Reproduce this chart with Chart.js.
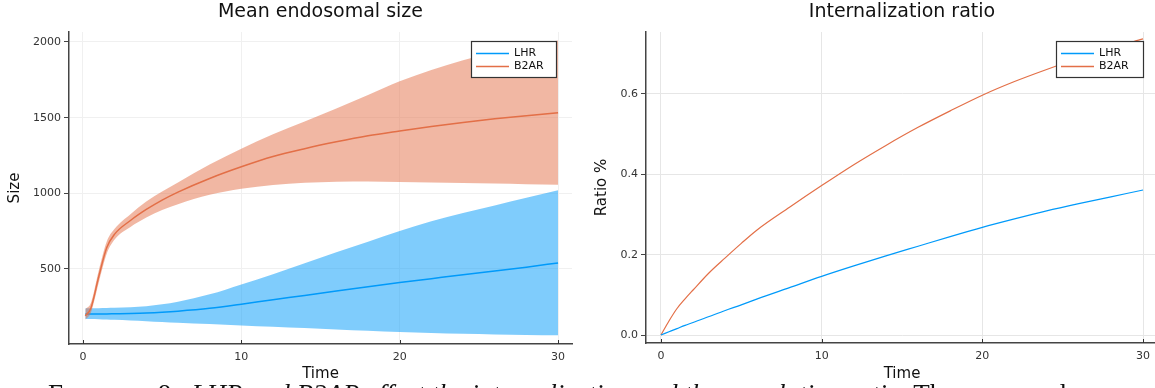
<!DOCTYPE html>
<html>
<head>
<meta charset="utf-8">
<script src="https://cdn.jsdelivr.net/npm/chart.js@4.4.1/dist/chart.umd.min.js"></script>
<style>
  html, body { margin: 0; padding: 0; background: #fff; }
  body { width: 1155px; height: 388px; overflow: hidden; position: relative; }
  canvas { position: absolute; top: 0; }
  #leftChart { left: 0; }
  #rightChart { left: 578px; }
  .caption {
    position: absolute; left: 48px; top: 381px; white-space: nowrap;
    font-family: "Liberation Serif", serif; font-size: 27px; line-height: 27px; color: #111;
  }
  .caption .sc { font-variant: small-caps; letter-spacing: 5px; }
</style>
</head>
<body>
<canvas id="leftChart" width="580" height="388"></canvas>
<canvas id="rightChart" width="600" height="388"></canvas>
<div class="caption"><span class="sc">Figure</span> 8. &nbsp;<i>LHR and B2AR effect the internalization and the population ratio.</i> The mean and</div>
<script>
// ---- data: mean endosomal size ----
const sizeTime = [0.15, 0.5, 1, 1.5, 2, 3, 4, 5, 6, 8, 10, 12, 14, 16, 18, 20, 22, 24, 26, 28, 30];
const lhrMean = [203, 203, 203, 203, 204, 206, 209, 214, 221, 240, 267, 297, 325, 355, 383, 410, 436, 462, 487, 512, 540];
const lhrHigh = [240, 240, 241, 242, 243, 247, 254, 266, 284, 332, 398, 465, 538, 610, 680, 750, 815, 870, 920, 970, 1020];
const lhrLow = [170, 169, 168, 166, 164, 160, 155, 150, 145, 136, 127, 118, 109, 100, 91, 83, 77, 71, 67, 64, 62];
const b2arMean = [190, 240, 450, 640, 730, 820, 893, 955, 1008, 1098, 1175, 1243, 1295, 1340, 1380, 1412, 1442, 1468, 1492, 1513, 1533];
const b2arHigh = [235, 275, 490, 680, 765, 862, 945, 1012, 1072, 1190, 1295, 1390, 1475, 1560, 1650, 1740, 1815, 1880, 1930, 1975, 2010];
const b2arLow = [165, 210, 410, 600, 695, 778, 840, 890, 928, 990, 1030, 1055, 1070, 1077, 1078, 1075, 1072, 1068, 1064, 1060, 1057];

// ---- data: internalization ratio ----
const ratioTime = [0, 0.5, 1, 1.5, 2, 3, 4, 5, 6, 8, 10, 12, 14, 16, 18, 20, 22, 24, 26, 28, 30];
const lhrRatio = [0, 0.008, 0.016, 0.024, 0.031, 0.046, 0.061, 0.075, 0.09, 0.118, 0.146, 0.172, 0.197, 0.221, 0.245, 0.268, 0.289, 0.309, 0.327, 0.344, 0.361];
const b2arRatio = [0, 0.035, 0.066, 0.09, 0.112, 0.155, 0.192, 0.228, 0.262, 0.318, 0.372, 0.424, 0.472, 0.517, 0.558, 0.597, 0.631, 0.661, 0.689, 0.714, 0.737];

const timeTicks = [0, 10, 20, 30];
const sizeTicks = [500, 1000, 1500, 2000];
const ratioTicks = [0, 0.2, 0.4, 0.6];

const BLUE = '#009AFA';
const ORANGE = '#E36F47';
const FONT = 'DejaVu Sans';

const pts = (xs, ys) => xs.map((x, i) => ({ x, y: ys[i] }));

// title centred over the plot area
const plotTitle = {
    id: 'plotTitle',
    afterDraw(chart, args, opts) {
        const { ctx, chartArea } = chart;
        ctx.save();
        ctx.font = `19px "${FONT}"`;
        ctx.fillStyle = '#111';
        ctx.textAlign = 'center';
        ctx.textBaseline = 'middle';
        ctx.fillText(opts.text, (chartArea.left + chartArea.right) / 2, 12);
        ctx.restore();
    }
};

// GR style ticks on the x axis point into the plot
const innerTicks = {
    id: 'innerTicks',
    afterDraw(chart) {
        const { ctx, chartArea, scales: { x } } = chart;
        ctx.save();
        ctx.strokeStyle = '#333';
        ctx.lineWidth = 1;
        x.ticks.forEach(t => {
            const px = Math.round(x.getPixelForValue(t.value)) + 0.5;
            ctx.beginPath();
            ctx.moveTo(px, chartArea.bottom);
            ctx.lineTo(px, chartArea.bottom - 4);
            ctx.stroke();
        });
        ctx.restore();
    }
};

// boxed legend, top right
const boxLegend = {
    id: 'boxLegend',
    afterDraw(chart, args, opts) {
        const { ctx, chartArea } = chart;
        const items = chart.data.datasets.filter(d => d.inLegend);
        const left = chartArea.right - opts.right - opts.width;
        const top = opts.top;
        const h = 10 + items.length * 13;
        ctx.save();
        ctx.fillStyle = '#fff';
        ctx.fillRect(left, top, opts.width, h);
        ctx.strokeStyle = '#333';
        ctx.lineWidth = 1.2;
        ctx.strokeRect(left + 0.5, top + 0.5, opts.width, h);
        ctx.font = `11px "${FONT}"`;
        ctx.textBaseline = 'middle';
        items.forEach((d, i) => {
            const y = top + 12.5 + i * 13;
            ctx.strokeStyle = d.borderColor;
            ctx.lineWidth = 1.5;
            ctx.beginPath();
            ctx.moveTo(left + 5, y);
            ctx.lineTo(left + 38, y);
            ctx.stroke();
            ctx.fillStyle = '#111';
            ctx.fillText(d.label, left + 43, y);
        });
        ctx.restore();
    }
};

function axisOpts({ min, max, ticks, title, size, vertical, gridColor, titlePad, fmt }) {
    return {
        type: 'linear',
        min, max,
        afterBuildTicks: s => { s.ticks = ticks.map(v => ({ value: v })); },
        afterFit: s => { if (vertical) s.width = size; else s.height = size; },
        ticks: {
            font: { family: FONT, size: 11 },
            color: '#333',
            padding: vertical ? 3 : 7,
            maxRotation: 0,
            autoSkip: false,
            callback: fmt || (v => v)
        },
        grid: {
            color: gridColor,
            lineWidth: 1,
            drawTicks: vertical,
            tickLength: 5,
            tickColor: '#444'
        },
        border: { color: '#444', width: 1.5 },
        title: {
            display: true,
            text: title,
            color: '#111',
            font: { family: FONT, size: 15 },
            padding: { top: titlePad, bottom: titlePad }
        }
    };
}

function baseOptions(cfg) {
    return {
        responsive: false,
        animation: false,
        layout: { padding: { left: 0, top: 32, right: cfg.padRight, bottom: 0 } },
        elements: { point: { radius: 0 } },
        plugins: {
            legend: { display: false },
            tooltip: { enabled: false },
            plotTitle: { text: cfg.title },
            boxLegend: cfg.legend
        },
        scales: { x: cfg.x, y: cfg.y }
    };
}

new Chart(document.getElementById('leftChart'), {
    type: 'line',
    data: {
        datasets: [
            { data: pts(sizeTime, lhrLow), borderWidth: 0, fill: false, order: 6 },
            { data: pts(sizeTime, lhrHigh), borderWidth: 0, fill: '-1', backgroundColor: 'rgba(0,154,250,0.5)', order: 5 },
            { label: 'LHR', inLegend: true, data: pts(sizeTime, lhrMean), borderColor: BLUE, borderWidth: 1.5, order: 4 },
            { data: pts(sizeTime, b2arLow), borderWidth: 0, fill: false, order: 3 },
            { data: pts(sizeTime, b2arHigh), borderWidth: 0, fill: '-1', backgroundColor: 'rgba(227,111,71,0.5)', order: 2 },
            { label: 'B2AR', inLegend: true, data: pts(sizeTime, b2arMean), borderColor: ORANGE, borderWidth: 1.5, order: 1 }
        ].map(d => ({ cubicInterpolationMode: 'monotone', ...d }))
    },
    options: baseOptions({
        title: 'Mean endosomal size',
        padRight: 8,
        legend: { width: 85, right: 16, top: 41 },
        x: axisOpts({ min: -0.88, max: 30.88, ticks: timeTicks, title: 'Time', size: 44, vertical: false, gridColor: '#f0f0f0', titlePad: 5 }),
        y: axisOpts({ min: 4, max: 2066, ticks: sizeTicks, title: 'Size', size: 69, vertical: true, gridColor: '#f0f0f0', titlePad: 6 })
    }),
    plugins: [plotTitle, innerTicks, boxLegend]
});

new Chart(document.getElementById('rightChart'), {
    type: 'line',
    data: {
        datasets: [
            { label: 'LHR', inLegend: true, data: pts(ratioTime, lhrRatio), borderColor: BLUE, borderWidth: 1.2, cubicInterpolationMode: 'monotone' },
            { label: 'B2AR', inLegend: true, data: pts(ratioTime, b2arRatio), borderColor: ORANGE, borderWidth: 1.2, cubicInterpolationMode: 'monotone' }
        ]
    },
    options: baseOptions({
        title: 'Internalization ratio',
        padRight: 20,
        legend: { width: 87, right: 15, top: 41 },
        x: axisOpts({ min: -0.93, max: 30.93, ticks: timeTicks, title: 'Time', size: 45, vertical: false, gridColor: '#e6e6e6', titlePad: 5 }),
        y: axisOpts({ min: -0.0199, max: 0.7543, ticks: ratioTicks, title: 'Ratio %', size: 68, vertical: true, gridColor: '#e6e6e6', titlePad: 15, fmt: v => v.toFixed(1) })
    }),
    plugins: [plotTitle, innerTicks, boxLegend]
});
</script>
</body>
</html>
